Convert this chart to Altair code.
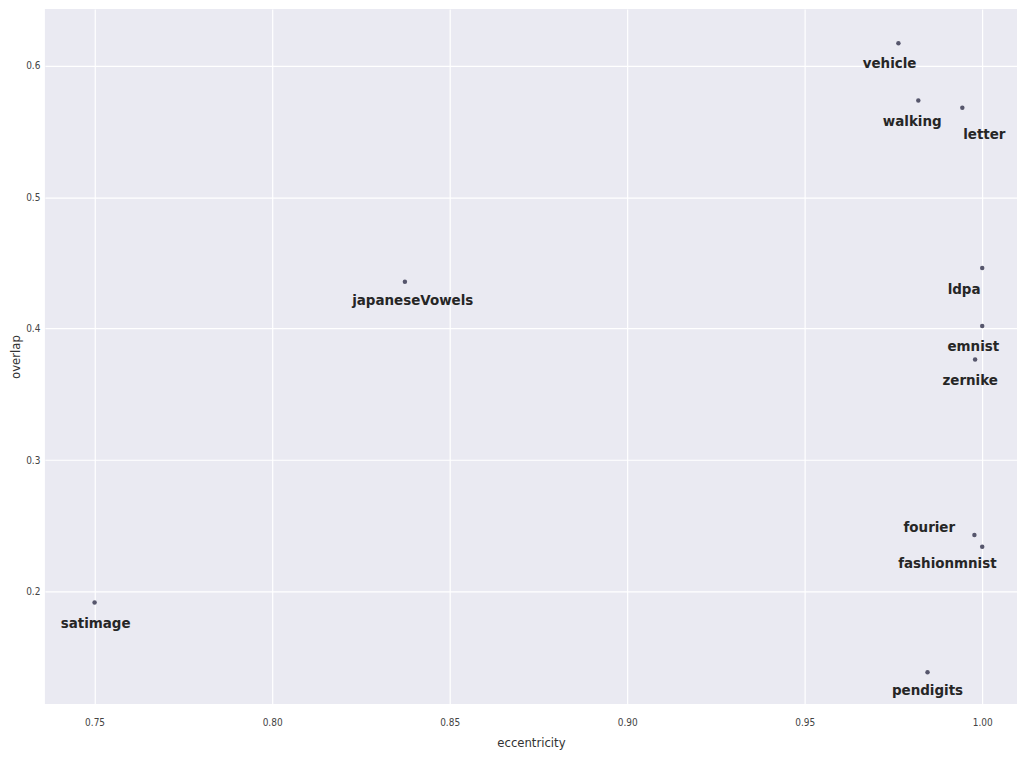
import altair as alt
import pandas as pd

names = ["vehicle", "walking", "letter", "ldpa", "emnist", "zernike",
         "fourier", "fashionmnist", "pendigits", "satimage", "japaneseVowels"]
eccentricity = [0.9764, 0.982, 0.9944, 1.000, 1.000, 0.998,
                0.9978, 1.000, 0.9846, 0.750, 0.8374]
overlap = [0.617, 0.5735, 0.568, 0.446, 0.402, 0.3765,
           0.243, 0.234, 0.1386, 0.1917, 0.4356]
# label anchor positions (after label repelling), in data units
label_x = [0.9739, 0.9803, 1.0006, 0.9949, 0.9975, 0.9966,
           0.9851, 0.9902, 0.9846, 0.7503, 0.8396]
label_y = [0.6023, 0.5576, 0.5477, 0.4303, 0.3864, 0.3606,
           0.2492, 0.2220, 0.1250, 0.1758, 0.4220]

x_ticks = [0.75, 0.80, 0.85, 0.90, 0.95, 1.00]
y_ticks = [0.2, 0.3, 0.4, 0.5, 0.6]

df = pd.DataFrame({"name": names, "eccentricity": eccentricity, "overlap": overlap,
                   "lx": label_x, "ly": label_y})

xs = alt.Scale(domain=[0.736, 1.0098], nice=False, zero=False)
ys = alt.Scale(domain=[0.1144, 0.643], nice=False, zero=False)

font = "DejaVu Sans Condensed"

points = alt.Chart(df).mark_circle(size=20, color="#56566c", opacity=1).encode(
    x=alt.X("eccentricity:Q", scale=xs,
            axis=alt.Axis(values=x_ticks, format=".2f", title="eccentricity")),
    y=alt.Y("overlap:Q", scale=ys,
            axis=alt.Axis(values=y_ticks, format=".1f", title="overlap")),
)

labels = alt.Chart(df).mark_text(fontWeight="bold", fontSize=15, font=font,
                                 color="#262626", align="center", baseline="middle").encode(
    x=alt.X("lx:Q", scale=xs),
    y=alt.Y("ly:Q", scale=ys),
    text="name:N",
)

chart = (points + labels).properties(
    width=975, height=697,
    autosize=alt.AutoSizeParams(type="none"),
    padding={"left": 37, "top": 0, "right": 0, "bottom": 46},
).configure_view(
    fill="#EAEAF2", stroke=None
).configure_axis(
    grid=True, gridColor="white", gridWidth=1.2,
    domain=False, ticks=False,
    labelFont=font, labelFontSize=10, labelColor="#444444",
    titleFont=font, titleFontSize=13, titleFontWeight="normal", titleColor="#333333",
).configure_axisY(titlePadding=3, labelPadding=5).configure_axisX(titlePadding=9, labelPadding=14)

chart.save("out.html", embed_options={"renderer": "svg", "actions": False})
